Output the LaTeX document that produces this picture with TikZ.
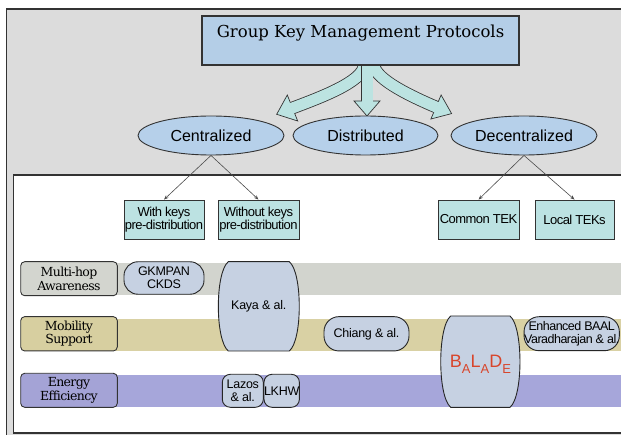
\documentclass[tikz,border=0pt]{standalone}
\usepackage{fontspec}
\usetikzlibrary{shapes.geometric,arrows.meta,calc}

\newfontfamily\titlefont{DejaVu Serif}
\newfontfamily\rowfont[LetterSpace=-5]{DejaVu Serif}
\newfontfamily\labelfont{Liberation Sans}
\newfontfamily\boxfont[LetterSpace=-4]{Liberation Sans}
\newfontfamily\protofont[LetterSpace=-2]{Liberation Sans}
\newfontfamily\protofonttight[LetterSpace=-4]{Liberation Sans}

\definecolor{panelgray}{HTML}{DCDCDC}
\definecolor{edgegray}{HTML}{333333}
\definecolor{titleblue}{HTML}{B4CEE7}
\definecolor{ellblue}{HTML}{B6D0EA}
\definecolor{arrowcyan}{HTML}{BCE3E1}
\definecolor{boxcyan}{HTML}{BCE2E2}
\definecolor{protoblue}{HTML}{C6D1E2}
\definecolor{bandgray}{HTML}{D2D4CE}
\definecolor{bandtan}{HTML}{D9D1A4}
\definecolor{bandviolet}{HTML}{A6A6DA}
\definecolor{labelgray}{HTML}{D3D5CF}
\definecolor{labeltan}{HTML}{D7CFA0}
\definecolor{labelviolet}{HTML}{A4A3D6}
\definecolor{baladered}{HTML}{D8452B}

% barrel-shaped outline: straight top and bottom, bulging sides
\newcommand\drawbarrel[4]{%
  \pgfmathsetmacro\bxa{#1+10}\pgfmathsetmacro\bxb{#3-10}%
  \pgfmathsetmacro\bya{#2+0.12*(#4-#2)}\pgfmathsetmacro\byb{#4-0.12*(#4-#2)}%
  \pgfmathsetmacro\bcl{#1-3.3}\pgfmathsetmacro\bcr{#3+3.3}%
  \draw[protoshape] (\bxa,#2) -- (\bxb,#2)
     .. controls (\bcr,\bya) and (\bcr,\byb) .. (\bxb,#4) -- (\bxa,#4)
     .. controls (\bcl,\byb) and (\bcl,\bya) .. (\bxa,#2) -- cycle;}

\newcommand\subl[1]{\raisebox{-5.5pt}{\fontsize{13}{13}\selectfont #1}}

\tikzset{
  protoshape/.style={draw=black!85, line width=0.9pt, fill=protoblue},
  titlebox/.style={draw=edgegray, line width=1.2pt, fill=titleblue, minimum width=317pt, minimum height=49pt, inner sep=0pt},
  family/.style={ellipse, draw=edgegray, line width=0.9pt, fill=ellblue, minimum width=146pt, minimum height=39pt, inner sep=0pt, font=\labelfont\fontsize{16}{16}\selectfont},
  subfamily/.style={rectangle, draw=edgegray, line width=0.8pt, fill=boxcyan, minimum height=39pt, inner sep=0pt, align=center, font=\boxfont\fontsize{13}{13.5}\selectfont},
  rowlabel/.style={rectangle, rounded corners=4pt, draw=edgegray, line width=0.9pt, minimum width=96.6pt, minimum height=34pt, inner sep=0pt, align=center, font=\rowfont\fontsize{12.5}{13.4}\selectfont},
  proto/.style={rectangle, protoshape, inner sep=0pt, align=center, font=\protofont\fontsize{12.5}{13.3}\selectfont},
  prototext/.style={inner sep=0pt, align=center, font=\protofont\fontsize{12.5}{13.3}\selectfont},
  conn/.style={draw=black!70, line width=0.6pt, -{Stealth[length=4.5pt,width=3.5pt]}},
  shaftedge/.style={draw=edgegray, line width=12.6pt},
  shaftfill/.style={draw=arrowcyan, line width=11pt},
  arrowhead/.style={draw=edgegray, line width=0.7pt, fill=arrowcyan, line join=miter},
}

\begin{document}
\begin{tikzpicture}[x=1pt, y=-1pt]
\useasboundingbox (0,0) rectangle (621,435);
\clip (0,0) rectangle (621,435);

% panels
\fill[white] (0,0) rectangle (621,435);
\draw[fill=panelgray, draw=edgegray, line width=1.3pt] (6.5,9) rectangle (660,470);
\draw[fill=white, draw=edgegray, line width=1.2pt] (13.5,175) rectangle (660,433);

% block arrows from the title to the three families
\draw[shaftedge] (364,58) -- (364,65) .. controls (364,82) and (316,99) .. (292.5,108);
\draw[arrowhead] (287.3,95) -- (276.7,114.3) -- (297.7,121) -- cycle;
\draw[shaftfill] (364,58) -- (364,65) .. controls (364,82) and (316,99) .. (292.5,108) -- ++(-0.93,0.37);

\draw[shaftedge] (374,58) -- (374,65) .. controls (375,80) and (415,98) .. (436,107);
\draw[arrowhead] (441.1,95) -- (451.6,113.6) -- (430.9,119) -- cycle;
\draw[shaftfill] (374,58) -- (374,65) .. controls (375,80) and (415,98) .. (436,107) -- ++(0.92,0.39);

\draw[shaftedge] (367,58) -- (367,101);
\draw[arrowhead] (354,101) -- (367,116) -- (380,101) -- cycle;
\draw[shaftfill] (367,58) -- (367,101.8);

% title
\node[titlebox] (title) at (360.5,40.5) {};
\node[anchor=base, inner sep=0pt, font=\titlefont\fontsize{16.5}{16.5}\selectfont] (titletext) at (360.5,37.5) {Group Key Management Protocols};

% families
\node[family] (cen) at (211,135.5) {Centralized};
\node[family, minimum width=145pt] (dis) at (365.5,135.5) {Distributed};
\node[family] (dec) at (524,135.5) {Decentralized};

% sub-families
\node[subfamily, minimum width=80pt] (wk) at (164,219.5) {With keys\\pre-distribution};
\node[subfamily, minimum width=81pt] (wok) at (258.5,219.5) {Without keys\\pre-distribution};
\node[subfamily, minimum width=81pt] (com) at (478.5,219.5) {Common TEK};
\node[subfamily, minimum width=79pt] (loc) at (574.5,219.5) {Local TEKs};

\draw[conn] (cen.south) -- (wk.north);
\draw[conn] (cen.south) -- (wok.north);
\draw[conn] (dec.south) -- (com.north);
\draw[conn] (dec.south) -- (loc.north);

% property bands
\fill[bandgray] (110,263) rectangle (625,295);
\fill[bandtan] (110,319) rectangle (625,350.7);
\fill[bandviolet] (110,375.3) rectangle (625,406.7);

\node[rowlabel, fill=labelgray] (hop) at (69,278.7) {Multi-hop\\Awareness};
\node[rowlabel, fill=labeltan, minimum height=34.3pt] (mob) at (69,333.8) {Mobility\\Support};
\node[rowlabel, fill=labelviolet] (nrg) at (69,390.3) {Energy\\Efficiency};

% protocols
\node[proto, rounded corners=14pt, minimum width=80pt, minimum height=32.5pt] (gk) at (164,278) {GKMPAN\\CKDS};
\drawbarrel{218.3}{261.7}{299.3}{351}
\node[prototext] (kaya) at (258.8,306.5) {Kaya \& al.};
\node[proto, rounded corners=15pt, minimum width=85pt, minimum height=34.3pt] (chi) at (366.5,333.8) {Chiang \& al.};
\drawbarrel{440.7}{316}{520}{407.3}
\node[inner sep=0pt, anchor=base, text=baladered, font=\labelfont\fontsize{18}{18}\selectfont] (bal) at (480.5,368) {B\subl{A}L\subl{A}D\subl{E}};
\node[proto, rounded corners=15pt, minimum width=95.3pt, minimum height=34pt, font=\protofonttight\fontsize{12.5}{13.3}\selectfont] (enh) at (571.7,333.7) {Enhanced BAAL\\Varadharajan \& al.};
\node[proto, rounded corners=8pt, minimum width=41pt, minimum height=33pt] (laz) at (242.8,390.8) {Lazos\\\& al.};
\node[proto, rounded corners=8pt, minimum width=35.3pt, minimum height=33pt] (lkh) at (281.7,390.8) {LKHW};
\end{tikzpicture}
\end{document}
